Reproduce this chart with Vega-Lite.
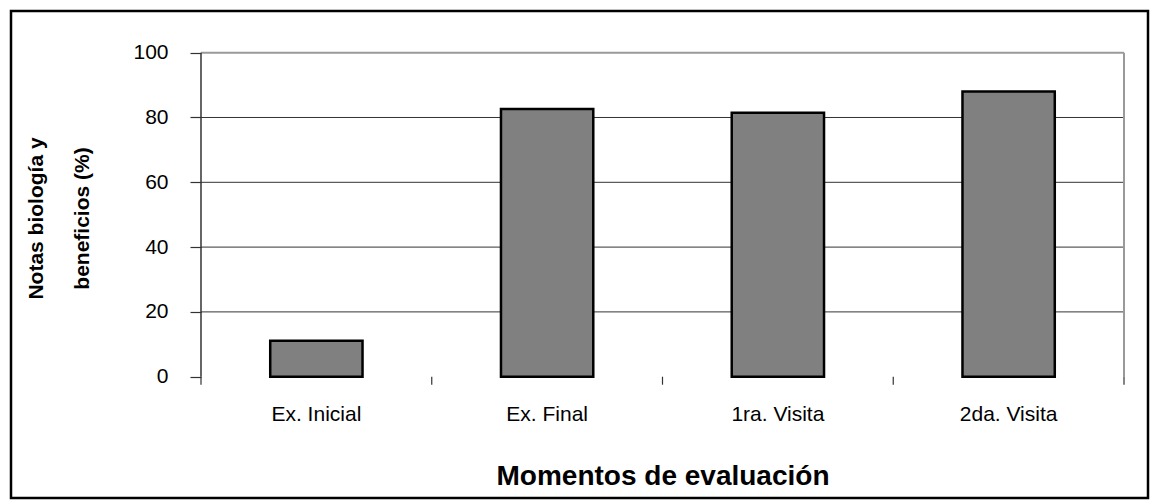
{
  "$schema": "https://vega.github.io/schema/vega-lite/v6.json",
  "width": 1137,
  "height": 487,
  "autosize": "none",
  "padding": {"left": 11, "top": 11, "right": 3, "bottom": 2},
  "background": "white",
  "config": {
    "view": {"stroke": "#000000", "strokeWidth": 2.5, "fill": "white"},
    "font": "Liberation Sans",
    "axisY": {
      "orient": "left",
      "offset": -190,
      "domain": false,
      "grid": false,
      "tickSize": 11,
      "tickColor": "#333333",
      "tickWidth": 1.2,
      "labelFontSize": 21,
      "labelPadding": 22,
      "labelColor": "#000000",
      "titleFontSize": 21,
      "titleFontWeight": "bold",
      "titleColor": "#000000",
      "titleAngle": -90,
      "titleAlign": "center",
      "titleBaseline": "alphabetic",
      "titleLineHeight": 46,
      "titleX": -159,
      "titleY": 207
    }
  },
  "layer": [
    {
      "data": {"values": [{"nota": 20}, {"nota": 40}, {"nota": 60}, {"nota": 80}]},
      "mark": {"type": "rule", "color": "#333333", "strokeWidth": 1},
      "encoding": {
        "y": {"field": "nota", "type": "quantitative", "scale": {"domain": [-37.438, 112.87], "nice": false, "zero": false}, "axis": {"title": ["Notas biología y", "beneficios (%)"], "values": [0, 20, 40, 60, 80, 100]}},
        "x": {"datum": 0, "type": "quantitative", "scale": {"domain": [-0.8234, 4.104], "nice": false, "zero": false}, "axis": null},
        "x2": {"datum": 4}
      }
    },
    {
      "data": {"values": [{"nota": 100}]},
      "mark": {"type": "rule", "color": "#9a9a9a", "strokeWidth": 2},
      "encoding": {
        "y": {"field": "nota", "type": "quantitative", "scale": {"domain": [-37.438, 112.87], "nice": false, "zero": false}, "axis": {"title": ["Notas biología y", "beneficios (%)"], "values": [0, 20, 40, 60, 80, 100]}},
        "x": {"datum": 0, "type": "quantitative", "scale": {"domain": [-0.8234, 4.104], "nice": false, "zero": false}, "axis": null},
        "x2": {"datum": 4}
      }
    },
    {
      "data": {"values": [{"pos": 4, "desde": 0, "hasta": 100}]},
      "mark": {"type": "rule", "color": "#9a9a9a", "strokeWidth": 2},
      "encoding": {
        "x": {"field": "pos", "type": "quantitative", "scale": {"domain": [-0.8234, 4.104], "nice": false, "zero": false}, "axis": null},
        "y": {"field": "desde", "type": "quantitative", "scale": {"domain": [-37.438, 112.87], "nice": false, "zero": false}, "axis": {"title": ["Notas biología y", "beneficios (%)"], "values": [0, 20, 40, 60, 80, 100]}},
        "y2": {"field": "hasta"}
      }
    },
    {
      "data": {"values": [{"pos": 0, "desde": 0, "hasta": 100}]},
      "mark": {"type": "rule", "color": "#333333", "strokeWidth": 1.5},
      "encoding": {
        "x": {"field": "pos", "type": "quantitative", "scale": {"domain": [-0.8234, 4.104], "nice": false, "zero": false}, "axis": null},
        "y": {"field": "desde", "type": "quantitative", "scale": {"domain": [-37.438, 112.87], "nice": false, "zero": false}, "axis": {"title": ["Notas biología y", "beneficios (%)"], "values": [0, 20, 40, 60, 80, 100]}},
        "y2": {"field": "hasta"}
      }
    },
    {
      "data": {"values": [{"pos": 0, "desde": 0, "hasta": -2.47}, {"pos": 1, "desde": 0, "hasta": -2.47}, {"pos": 2, "desde": 0, "hasta": -2.47}, {"pos": 3, "desde": 0, "hasta": -2.47}, {"pos": 4, "desde": 0, "hasta": -2.47}]},
      "mark": {"type": "rule", "color": "#333333", "strokeWidth": 1.2},
      "encoding": {
        "x": {"field": "pos", "type": "quantitative", "scale": {"domain": [-0.8234, 4.104], "nice": false, "zero": false}, "axis": null},
        "y": {"field": "desde", "type": "quantitative", "scale": {"domain": [-37.438, 112.87], "nice": false, "zero": false}, "axis": {"title": ["Notas biología y", "beneficios (%)"], "values": [0, 20, 40, 60, 80, 100]}},
        "y2": {"field": "hasta"}
      }
    },
    {
      "data": {
        "values": [
          {"momento": "Ex. Inicial", "nota": 11.1, "base": 0},
          {"momento": "Ex. Final", "nota": 82.6, "base": 0},
          {"momento": "1ra. Visita", "nota": 81.5, "base": 0},
          {"momento": "2da. Visita", "nota": 88.0, "base": 0}
        ]
      },
      "mark": {"type": "bar", "fill": "#808080", "stroke": "#000000", "strokeWidth": 2.5},
      "encoding": {
        "x": {
          "field": "momento",
          "type": "nominal",
          "sort": null,
          "scale": {"paddingInner": 0.6, "paddingOuter": 0.7637, "align": 0.7355},
          "axis": {
            "orient": "bottom",
            "offset": -121.3,
            "domain": false,
            "ticks": false,
            "labelAngle": 0,
            "labelFontSize": 21,
            "labelPadding": 27,
            "labelColor": "#000000",
            "title": "Momentos de evaluación",
            "titleFontSize": 28,
            "titleFontWeight": "bold",
            "titleColor": "#000000",
            "titleBaseline": "alphabetic",
            "titleX": 651.5,
            "titleY": 108
          }
        },
        "y": {"field": "nota", "type": "quantitative", "scale": {"domain": [-37.438, 112.87], "nice": false, "zero": false}, "axis": {"title": ["Notas biología y", "beneficios (%)"], "values": [0, 20, 40, 60, 80, 100]}},
        "y2": {"field": "base"}
      }
    }
  ],
  "resolve": {"scale": {"x": "independent"}}
}
